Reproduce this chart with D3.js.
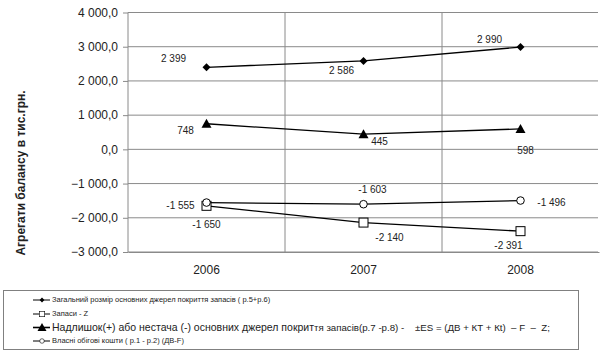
<!DOCTYPE html>
<html><head><meta charset="utf-8">
<script src="https://cdn.jsdelivr.net/npm/d3@7"></script>
<style>body{margin:0;background:#fff}svg{display:block;font-family:"Liberation Sans",Arial,sans-serif}text{white-space:pre}</style>
</head><body>
<svg id="c" width="602" height="355"></svg>
<script>
const years = ["2006","2007","2008"];
const totalSources = [2399, 2586, 2990];
const stocksZ = [-1650, -2140, -2391];
const surplus = [748, 445, 598];
const ownCapital = [-1555, -1603, -1496];
const yTicks = [-3000,-2000,-1000,0,1000,2000,3000,4000];
const legendLabels = [
  "Загальний розмір основних джерел покриття запасів ( р.5+р.6)",
  "Запаси - Z",
  "Надлишок(+) або нестача (-) основних джерел покриття запасів(р.7 -р.8) -    ±ES = (ДВ + КТ + Кt)  – F  –  Z;",
  "Власні обігові кошти ( р.1 - р.2) (ДВ-F)"
];

const svg = d3.select("#c");
const L = 128, R = 598, T = 12.5, B = 252;
const x = d3.scaleBand().domain(years).range([L, R + 1]);
const y = d3.scaleLinear().domain([-3000, 4000]).range([B, T]);
const fmt = v => d3.format(",.1f")(v).replace(/,/g, " ").replace(".", ",");
const fmtInt = v => (v < 0 ? "-" : "") + d3.format(",")(Math.abs(v)).replace(/,/g, " ");

// gridlines
svg.append("g").selectAll("line").data(yTicks).join("line")
  .attr("x1", L).attr("x2", R).attr("y1", d => y(d)).attr("y2", d => y(d))
  .attr("stroke", "#8a8a8a").attr("stroke-width", 1);
svg.append("g").selectAll("line").data(years.slice(1)).join("line")
  .attr("x1", d => x(d)).attr("x2", d => x(d)).attr("y1", T).attr("y2", B)
  .attr("stroke", "#8a8a8a").attr("stroke-width", 1);

// y axis
const ya = d3.axisLeft(y).tickValues(yTicks).tickSize(5).tickPadding(5).tickFormat(fmt);
const gy = svg.append("g").attr("transform", `translate(${L},0)`).call(ya);
gy.select(".domain").attr("stroke", "#8a8a8a").attr("d", `M0,${T}V${B}`);
gy.selectAll(".tick line").attr("stroke", "#8a8a8a");
gy.selectAll("text").attr("font-size", 12).attr("fill", "#222").attr("font-family", "Liberation Sans, Arial, sans-serif");

// x axis labels
const xa = d3.axisBottom(x).tickSize(0).tickPadding(13);
const gx = svg.append("g").attr("transform", `translate(0,${B})`).call(xa);
gx.select(".domain").attr("stroke", "#8a8a8a");
gx.selectAll("text").attr("font-size", 12).attr("fill", "#222").attr("font-family", "Liberation Sans, Arial, sans-serif");

// y title
svg.append("text").attr("transform", "translate(25,173) rotate(-90)")
  .attr("text-anchor", "middle").attr("font-size", 12).attr("font-weight", "bold")
  .attr("fill", "#222").text("Агрегати балансу в тис.грн.");

const line = d3.line().x((d, i) => x(years[i]) + x.bandwidth() / 2).y(d => y(d));
const series = [
  {vals: totalSources, marker: "diamond", labelOff: [[-33, -8], [-22, 10], [-31, -7]]},
  {vals: stocksZ, marker: "square", labelOff: [[0, 20], [26, 16], [-12, 15]]},
  {vals: surplus, marker: "triangle", labelOff: [[-21, 8], [16, 8], [5, 22]]},
  {vals: ownCapital, marker: "circle", labelOff: [[-26, 4], [9, -14], [31, 3]]}
];

function drawMarker(g, type, cx, cy) {
  if (type === "diamond") g.append("path").attr("d", `M${cx},${cy-4}L${cx+4},${cy}L${cx},${cy+4}L${cx-4},${cy}Z`).attr("fill", "#000");
  else if (type === "square") g.append("rect").attr("x", cx-4.5).attr("y", cy-4.5).attr("width", 9).attr("height", 9).attr("fill", "#fff").attr("stroke", "#000");
  else if (type === "triangle") g.append("path").attr("d", `M${cx},${cy-5}L${cx+5},${cy+4}L${cx-5},${cy+4}Z`).attr("fill", "#000");
  else g.append("circle").attr("cx", cx).attr("cy", cy).attr("r", 3.8).attr("fill", "#fff").attr("stroke", "#000");
}

series.forEach(s => {
  svg.append("path").attr("d", line(s.vals)).attr("fill", "none").attr("stroke", "#000").attr("stroke-width", 1.3);
  const g = svg.append("g");
  s.vals.forEach((v, i) => {
    const cx = x(years[i]) + x.bandwidth() / 2, cy = y(v);
    drawMarker(g, s.marker, cx, cy);
    svg.append("text").attr("x", cx + s.labelOff[i][0]).attr("y", cy + s.labelOff[i][1])
      .attr("text-anchor", "middle").attr("dominant-baseline", "middle")
      .attr("font-size", 10).attr("fill", "#222").text(fmtInt(v));
  });
});

// legend
svg.append("rect").attr("x", 3.5).attr("y", 290.5).attr("width", 575).attr("height", 59)
  .attr("fill", "#fff").attr("stroke", "#808080");
const ly = [300, 314, 327.5, 341];
const lsize = [7.5, 7.5, 10.5, 7.5];
const lmark = ["diamond", "square", "triangle", "circle"];
legendLabels.forEach((t, i) => {
  const g = svg.append("g");
  g.append("line").attr("x1", 33).attr("x2", 50).attr("y1", ly[i]).attr("y2", ly[i]).attr("stroke", "#000").attr("stroke-width", i === 2 ? 1.6 : 1);
  const sc = i === 2 ? 0.9 : 0.6;
  const mg = g.append("g").attr("transform", `translate(42,${ly[i]}) scale(${sc})`);
  drawMarker(mg, lmark[i], 0, 0);
  const tx = g.append("text").attr("x", 52).attr("y", ly[i]).attr("dominant-baseline", "middle")
    .attr("fill", "#222").attr("font-size", lsize[i]);
  if (i === 2) {
    tx.append("tspan").text(t.slice(0, 50));
    tx.append("tspan").attr("font-size", 9.7).text(t.slice(50));
  } else tx.text(t);
});
</script>
</body></html>
